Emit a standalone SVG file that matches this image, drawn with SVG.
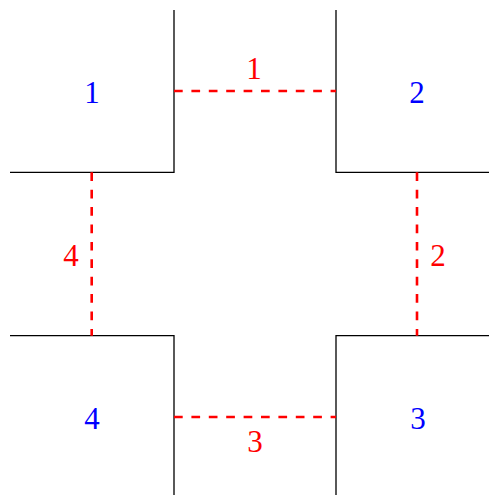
<svg xmlns="http://www.w3.org/2000/svg" width="489" height="497" viewBox="0 0 489 497">
<style>
.wall{fill:none;stroke:#000;stroke-width:1.3}
.gap{fill:none;stroke:#ff0000;stroke-width:2.6;stroke-dasharray:8.7 8.7}
text{font-family:"Liberation Serif","DejaVu Serif",serif;font-size:31px;text-anchor:middle}
.room{fill:#0000ff}
.lbl{fill:#ff0000}
</style>
<rect width="489" height="497" fill="#fff"/>
<g id="room1"><path class="wall" d="M10,172.3 H174 V10"/><text class="room" x="92" y="103">1</text></g>
<g id="room2"><path class="wall" d="M336,10 V172.3 H489"/><text class="room" x="417" y="103">2</text></g>
<g id="room3"><path class="wall" d="M489,335.7 H336 V495"/><text class="room" x="418" y="429">3</text></g>
<g id="room4"><path class="wall" d="M10,335.7 H174 V495"/><text class="room" x="92" y="429">4</text></g>
<g id="connectors">
<line class="gap" x1="174" y1="91" x2="336" y2="91"/>
<line class="gap" x1="417" y1="172.3" x2="417" y2="335.7"/>
<line class="gap" x1="174" y1="417" x2="336" y2="417"/>
<line class="gap" x1="91.7" y1="172.3" x2="91.7" y2="335.7"/>
<text class="lbl" x="254" y="79">1</text>
<text class="lbl" x="438" y="266">2</text>
<text class="lbl" x="255" y="452">3</text>
<text class="lbl" x="71" y="266">4</text>
</g>
</svg>
